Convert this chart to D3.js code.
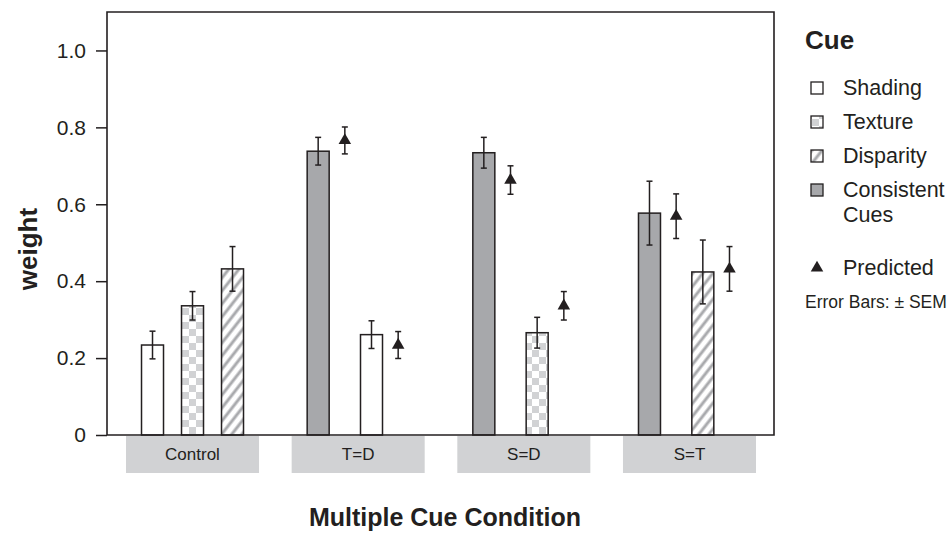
<!DOCTYPE html>
<html>
<head>
<meta charset="utf-8">
<script src="https://cdn.jsdelivr.net/npm/d3@7"></script>
<style>
  html, body { margin: 0; padding: 0; background: #fff; }
  svg { display: block; font-family: "Liberation Sans", Arial, Helvetica, sans-serif; }
</style>
</head>
<body>
<svg id="chart" width="951" height="533"></svg>
<script>
// Conditions along the x axis and the cue order inside each condition
const groups = ["Control", "T=D", "S=D", "S=T"];
const slotOrder = [
  ["Shading", "Texture", "Disparity"],
  ["Consistent", "Consistent-pred", "Shading", "Shading-pred"],
  ["Consistent", "Consistent-pred", "Texture", "Texture-pred"],
  ["Consistent", "Consistent-pred", "Disparity", "Disparity-pred"]
];

// Measured weights (bars) with SEM
const barGroup = ["Control", "Control", "Control", "T=D", "T=D", "S=D", "S=D", "S=T", "S=T"];
const barCue   = ["Shading", "Texture", "Disparity", "Consistent", "Shading", "Consistent", "Texture", "Consistent", "Disparity"];
const barValue = [0.234, 0.336, 0.432, 0.738, 0.261, 0.734, 0.266, 0.577, 0.424];
const barSem   = [0.036, 0.037, 0.058, 0.036, 0.036, 0.040, 0.040, 0.083, 0.083];

// Predicted weights (triangles) with SEM
const predGroup = ["T=D", "T=D", "S=D", "S=D", "S=T", "S=T"];
const predCue   = ["Consistent", "Shading", "Consistent", "Texture", "Consistent", "Disparity"];
const predValue = [0.766, 0.234, 0.663, 0.336, 0.569, 0.432];
const predSem   = [0.035, 0.035, 0.037, 0.037, 0.058, 0.058];

const yTicks = [0, 0.2, 0.4, 0.6, 0.8, 1.0];
const yTickLabels = ["0", "0.2", "0.4", "0.6", "0.8", "1.0"];
const legendCues = ["Shading", "Texture", "Disparity", "Consistent"];
const legendLabels = [["Shading"], ["Texture"], ["Disparity"], ["Consistent", "Cues"]];

const svg = d3.select("#chart");
const ink = "#231f20";
const plot = { left: 107, right: 774, top: 12, bottom: 435 };

// Fill patterns
const defs = svg.append("defs");
const checker = defs.append("pattern").attr("id", "checker")
  .attr("patternUnits", "userSpaceOnUse").attr("width", 14).attr("height", 14);
checker.append("rect").attr("width", 14).attr("height", 14).attr("fill", "#fff");
checker.append("rect").attr("width", 7).attr("height", 7).attr("fill", "#d1d2d4");
checker.append("rect").attr("x", 7).attr("y", 7).attr("width", 7).attr("height", 7).attr("fill", "#d1d2d4");

const stripes = defs.append("pattern").attr("id", "stripes")
  .attr("patternUnits", "userSpaceOnUse").attr("width", 8).attr("height", 8)
  .attr("patternTransform", "rotate(38)");
stripes.append("rect").attr("width", 8).attr("height", 8).attr("fill", "#fff");
stripes.append("line").attr("x1", 2).attr("x2", 2).attr("y1", 0).attr("y2", 8)
  .attr("stroke", "#a9aaad").attr("stroke-width", 3);

const cueFill = d3.scaleOrdinal()
  .domain(["Shading", "Texture", "Disparity", "Consistent"])
  .range(["#ffffff", "url(#checker)", "url(#stripes)", "#a7a8ab"]);

// Scales
const y = d3.scaleLinear().domain([0, 1.1]).range([plot.bottom, plot.top]);
const x = d3.scaleBand().domain(groups).range([126, 756]).paddingInner(0.197).paddingOuter(0);
const slotScale = groups.map((g, i) => {
  const c = x(g) + x.bandwidth() / 2;
  return d3.scalePoint().domain(slotOrder[i]).range([c - 40, c + 40]);
});
const slotX = (g, key) => slotScale[groups.indexOf(g)](key);
const barW = 22;

// Condition label boxes under the axis
const lab = svg.append("g");
groups.forEach(g => {
  lab.append("rect").attr("x", x(g)).attr("y", plot.bottom + 1)
    .attr("width", x.bandwidth()).attr("height", 37).attr("fill", "#d1d2d4");
  lab.append("text").attr("x", x(g) + x.bandwidth() / 2).attr("y", plot.bottom + 25)
    .attr("text-anchor", "middle").attr("font-size", 17).attr("fill", ink).text(g);
});

// Bars
const bars = barValue.map((v, i) => ({ g: barGroup[i], cue: barCue[i], v, sem: barSem[i] }));
svg.append("g").selectAll("rect").data(bars).join("rect")
  .attr("x", d => slotX(d.g, d.cue) - barW / 2)
  .attr("y", d => y(d.v))
  .attr("width", barW)
  .attr("height", d => y(0) - y(d.v))
  .attr("fill", d => cueFill(d.cue))
  .attr("stroke", ink).attr("stroke-width", 1.5);

// Predicted triangles
const preds = predValue.map((v, i) => ({ g: predGroup[i], cue: predCue[i], v, sem: predSem[i] }));
const tri = d3.symbol().type(d3.symbolTriangle).size(68);
svg.append("g").selectAll("path").data(preds).join("path")
  .attr("transform", d => `translate(${slotX(d.g, d.cue + "-pred")},${y(d.v)})`)
  .attr("d", tri).attr("fill", ink);

// Error bars
const errs = bars.map(d => ({ cx: slotX(d.g, d.cue), v: d.v, sem: d.sem }))
  .concat(preds.map(d => ({ cx: slotX(d.g, d.cue + "-pred"), v: d.v, sem: d.sem })));
const eg = svg.append("g").attr("stroke", ink).attr("stroke-width", 1.5);
errs.forEach(d => {
  eg.append("line").attr("x1", d.cx).attr("x2", d.cx).attr("y1", y(d.v + d.sem)).attr("y2", y(d.v - d.sem));
  [d.v + d.sem, d.v - d.sem].forEach(e => {
    eg.append("line").attr("x1", d.cx - 3).attr("x2", d.cx + 3).attr("y1", y(e)).attr("y2", y(e));
  });
});

// Frame and baseline
svg.append("path")
  .attr("d", `M${plot.left},${plot.bottom}V${plot.top}H${plot.right}V${plot.bottom}H${plot.left}`)
  .attr("fill", "none").attr("stroke", ink).attr("stroke-width", 1.6);

// Y axis
const yAxis = d3.axisLeft(y).tickValues(yTicks).tickSize(11).tickPadding(10)
  .tickFormat((d, i) => yTickLabels[i]);
const ya = svg.append("g").attr("transform", `translate(${plot.left},0)`).call(yAxis);
ya.select(".domain").remove();
ya.selectAll(".tick line").attr("stroke", ink).attr("stroke-width", 1.5);
ya.selectAll(".tick text").attr("font-size", 21).attr("fill", ink)
  .attr("font-family", "Liberation Sans, Arial, sans-serif");

// Axis titles
svg.append("text").attr("transform", "translate(37,249) rotate(-90)")
  .attr("text-anchor", "middle").attr("font-size", 26).attr("font-weight", "bold").attr("fill", ink)
  .text("weight");
svg.append("text").attr("x", 445).attr("y", 526)
  .attr("text-anchor", "middle").attr("font-size", 25).attr("font-weight", "bold").attr("fill", ink)
  .text("Multiple Cue Condition");

// Legend
const lg = svg.append("g").attr("transform", "translate(805,0)");
lg.append("text").attr("x", 0).attr("y", 49).attr("font-size", 26).attr("font-weight", "bold")
  .attr("fill", ink).text("Cue");
const rowY = [88, 122, 156, 190];
legendCues.forEach((c, i) => {
  lg.append("rect").attr("x", 6).attr("y", rowY[i] - 6).attr("width", 12).attr("height", 12)
    .attr("fill", cueFill(c)).attr("stroke", ink).attr("stroke-width", 1.3);
  const t = lg.append("text").attr("x", 38).attr("y", rowY[i] + 7).attr("font-size", 21.5).attr("fill", ink);
  legendLabels[i].forEach((line, j) => {
    t.append("tspan").attr("x", 38).attr("dy", j === 0 ? 0 : 25).text(line);
  });
});
lg.append("path").attr("transform", "translate(12,268)").attr("d", tri).attr("fill", ink);
lg.append("text").attr("x", 38).attr("y", 275).attr("font-size", 21.5).attr("fill", ink).text("Predicted");
lg.append("text").attr("x", 0).attr("y", 308).attr("font-size", 17.5).attr("fill", ink).text("Error Bars: ± SEM");
</script>
</body>
</html>
